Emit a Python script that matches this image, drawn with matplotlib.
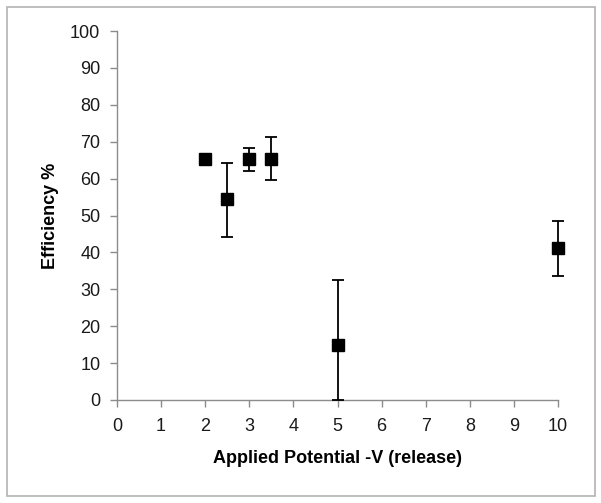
import matplotlib
matplotlib.use("Agg")
import matplotlib.pyplot as plt
from matplotlib.patches import Rectangle

potential = [2, 2.5, 3, 3.5, 5, 10]
efficiency = [65.4, 54.4, 65.2, 65.4, 15.0, 41.2]
err_low = [0.0, 10.1, 3.1, 5.9, 15.0, 7.5]
err_high = [0.0, 9.9, 3.0, 5.8, 17.6, 7.4]
x_ticks = list(range(0, 11))
y_ticks = list(range(0, 101, 10))

plt.rcParams['font.family'] = ['Liberation Sans', 'DejaVu Sans']

fig = plt.figure(figsize=(6.01, 5.03), dpi=100)
fig.patches.append(Rectangle((7 / 601, 7 / 503), 588 / 601, 489 / 503, transform=fig.transFigure,
                             fill=False, edgecolor='#b3b3b3', linewidth=1.2))
ax = fig.add_axes([117 / 601, 1 - 400 / 503, 441 / 601, 369 / 503])

ax.errorbar(potential, efficiency, yerr=[err_low, err_high], fmt='s', color='black',
            markersize=8, ecolor='black', elinewidth=1.3, capsize=4.5, capthick=1.3,
            clip_on=False, zorder=5)

ax.set_xlim(0, 10)
ax.set_ylim(0, 100)
ax.set_xticks(x_ticks)
ax.set_yticks(y_ticks)
for s in ['top', 'right']:
    ax.spines[s].set_visible(False)
for s in ['left', 'bottom']:
    ax.spines[s].set_color('#8c8c8c')
    ax.spines[s].set_linewidth(1.0)
ax.tick_params(axis='both', direction='out', length=5, width=1.0, color='#8c8c8c',
               labelsize=13, labelcolor='#1a1a1a')
ax.tick_params(axis='x', pad=8)
ax.tick_params(axis='y', pad=7)
ax.set_xlabel('Applied Potential -V (release)', fontsize=13, fontweight='bold', labelpad=11)
ax.set_ylabel('Efficiency %', fontsize=13, fontweight='bold', labelpad=8)

fig.savefig('out.png', dpi=100)
